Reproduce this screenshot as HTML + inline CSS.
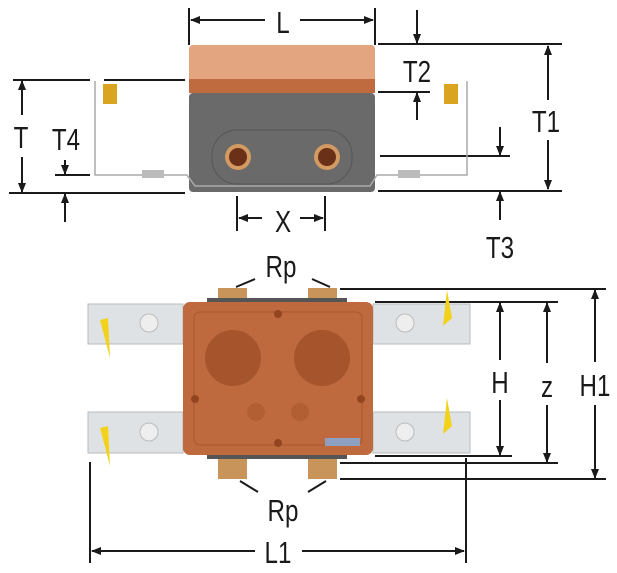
<!DOCTYPE html>
<html><head><style>
body{margin:0;background:#fff;}
svg{display:block;}
text{font-family:"Liberation Sans",sans-serif;font-size:31px;fill:#1a1a1a;text-anchor:middle;}
</style></head><body>
<svg width="617" height="573" viewBox="0 0 617 573" xmlns="http://www.w3.org/2000/svg">
<defs>
<marker id="a" markerWidth="10" markerHeight="10" refX="9" refY="5" orient="auto" markerUnits="userSpaceOnUse">
<path d="M0,1 L10,5 L0,9 Z" fill="#1a1a1a"/></marker>
</defs>
<g stroke="#1a1a1a" stroke-width="2" fill="none">
<line x1="189" y1="8" x2="189" y2="45"/><line x1="375" y1="8" x2="375" y2="45"/>
<line x1="265" y1="20" x2="191" y2="20" marker-end="url(#a)"/><line x1="300" y1="20" x2="373" y2="20" marker-end="url(#a)"/>
<line x1="378" y1="44" x2="562" y2="44"/><line x1="378" y1="92" x2="430" y2="92"/>
<line x1="417" y1="10" x2="417" y2="43" marker-end="url(#a)"/><line x1="417" y1="120" x2="417" y2="93" marker-end="url(#a)"/>
<line x1="378" y1="191" x2="562" y2="191"/><line x1="380" y1="156" x2="510" y2="156"/>
<line x1="548" y1="100" x2="548" y2="46" marker-end="url(#a)"/><line x1="548" y1="140" x2="548" y2="189" marker-end="url(#a)"/>
<line x1="500" y1="127" x2="500" y2="155" marker-end="url(#a)"/><line x1="500" y1="220" x2="500" y2="192" marker-end="url(#a)"/>
<line x1="13" y1="80" x2="90" y2="80"/><line x1="104" y1="80" x2="185" y2="80"/>
<line x1="9" y1="193" x2="185" y2="193"/><line x1="55" y1="175" x2="90" y2="175"/>
<line x1="22" y1="115" x2="22" y2="81" marker-end="url(#a)"/><line x1="22" y1="157" x2="22" y2="192" marker-end="url(#a)"/>
<line x1="65" y1="160" x2="65" y2="174" marker-end="url(#a)"/><line x1="65" y1="222" x2="65" y2="194" marker-end="url(#a)"/>
<line x1="237" y1="196" x2="237" y2="231"/><line x1="325" y1="196" x2="325" y2="231"/>
<line x1="262" y1="218" x2="239" y2="218" marker-end="url(#a)"/><line x1="300" y1="218" x2="323" y2="218" marker-end="url(#a)"/>
<line x1="340" y1="289" x2="606" y2="289"/><line x1="375" y1="302" x2="558" y2="302"/>
<line x1="375" y1="456" x2="512" y2="456"/><line x1="340" y1="463" x2="558" y2="463"/>
<line x1="340" y1="479" x2="606" y2="479"/>
<line x1="500" y1="360" x2="500" y2="303" marker-end="url(#a)"/><line x1="500" y1="400" x2="500" y2="455" marker-end="url(#a)"/>
<line x1="547" y1="363" x2="547" y2="303" marker-end="url(#a)"/><line x1="547" y1="405" x2="547" y2="462" marker-end="url(#a)"/>
<line x1="595" y1="362" x2="595" y2="290" marker-end="url(#a)"/><line x1="595" y1="405" x2="595" y2="478" marker-end="url(#a)"/>
<line x1="90" y1="462" x2="90" y2="563"/><line x1="466" y1="458" x2="466" y2="563"/>
<line x1="255" y1="551" x2="92" y2="551" marker-end="url(#a)"/><line x1="302" y1="551" x2="464" y2="551" marker-end="url(#a)"/>
<line x1="236" y1="287" x2="255" y2="279"/><line x1="312" y1="279" x2="330" y2="287"/>
<line x1="240" y1="481" x2="258" y2="492"/><line x1="308" y1="492" x2="326" y2="481"/>
</g>
<rect x="189" y="45" width="186" height="38" rx="4" fill="#e2a57f"/>
<rect x="189" y="79" width="186" height="14" fill="#c06a40"/>
<rect x="189" y="93" width="186" height="99" rx="4" fill="#6a6a6a"/>
<rect x="212" y="130" width="140" height="54" rx="25" fill="none" stroke="#555"/>
<circle cx="238" cy="157" r="13" fill="#d39a62"/><circle cx="238" cy="157" r="9" fill="#6a3018"/>
<circle cx="327" cy="157" r="13" fill="#d39a62"/><circle cx="327" cy="157" r="9" fill="#6a3018"/>
<g stroke="#aaa" stroke-width="1.5" fill="none">
<path d="M95,81 V175 H187 L195,186 H370 L377,175 H467 V81"/>
</g>
<rect x="103" y="84" width="14" height="20" fill="#d9a520"/><rect x="444" y="84" width="14" height="20" fill="#d9a520"/>
<rect x="142" y="170" width="22" height="8" fill="#bbb"/><rect x="398" y="170" width="22" height="8" fill="#bbb"/>
<g fill="#dfe2e5" stroke="#bbb">
<rect x="88" y="304" width="95" height="40"/><rect x="88" y="412" width="95" height="41"/>
<rect x="373" y="304" width="97" height="40"/><rect x="373" y="412" width="97" height="41"/>
<circle cx="149" cy="323" r="9" fill="#eee"/><circle cx="149" cy="432" r="9" fill="#eee"/>
<circle cx="405" cy="323" r="9" fill="#eee"/><circle cx="405" cy="432" r="9" fill="#eee"/>
</g>
<g fill="#f2d21a">
<path d="M100,320 L108,318 L110,358 Z"/><path d="M100,428 L108,426 L110,466 Z"/>
<path d="M447,290 L452,318 L443,326 Z"/><path d="M447,398 L452,426 L443,434 Z"/>
</g>
<rect x="218" y="288" width="29" height="14" fill="#c8945a"/><rect x="308" y="288" width="29" height="14" fill="#c8945a"/>
<rect x="218" y="455" width="29" height="24" fill="#c8945a"/><rect x="308" y="455" width="29" height="24" fill="#c8945a"/>
<rect x="207" y="298" width="140" height="6" fill="#555"/><rect x="207" y="453" width="140" height="6" fill="#555"/>
<rect x="183" y="302" width="190" height="153" rx="7" fill="#bf6a3e"/>
<rect x="194" y="312" width="168" height="133" rx="6" fill="none" stroke="#a8572f"/>
<circle cx="233" cy="358" r="28" fill="#a5542c"/><circle cx="322" cy="358" r="28" fill="#a5542c"/>
<circle cx="256" cy="412" r="9" fill="#b25f34"/><circle cx="300" cy="412" r="9" fill="#b25f34"/>
<circle cx="278" cy="314" r="4" fill="#94451f"/><circle cx="278" cy="443" r="4" fill="#94451f"/>
<circle cx="195" cy="399" r="4" fill="#94451f"/><circle cx="361" cy="399" r="4" fill="#94451f"/>
<rect x="325" y="438" width="35" height="8" fill="#8ea0c0"/>
<text transform="translate(283,33) scale(0.78,1)">L</text>
<text transform="translate(417,82) scale(0.78,1)">T2</text>
<text transform="translate(546,132) scale(0.78,1)">T1</text>
<text transform="translate(500,258) scale(0.78,1)">T3</text>
<text transform="translate(21,148) scale(0.78,1)">T</text>
<text transform="translate(66,150) scale(0.78,1)">T4</text>
<text transform="translate(283,232) scale(0.78,1)">X</text>
<text transform="translate(281,277) scale(0.78,1)">Rp</text>
<text transform="translate(500,393) scale(0.78,1)">H</text>
<text transform="translate(547,397) scale(0.78,1)">z</text>
<text transform="translate(595,396) scale(0.78,1)">H1</text>
<text transform="translate(283,521) scale(0.78,1)">Rp</text>
<text transform="translate(278,563) scale(0.78,1)">L1</text>
</svg>
</body></html>
